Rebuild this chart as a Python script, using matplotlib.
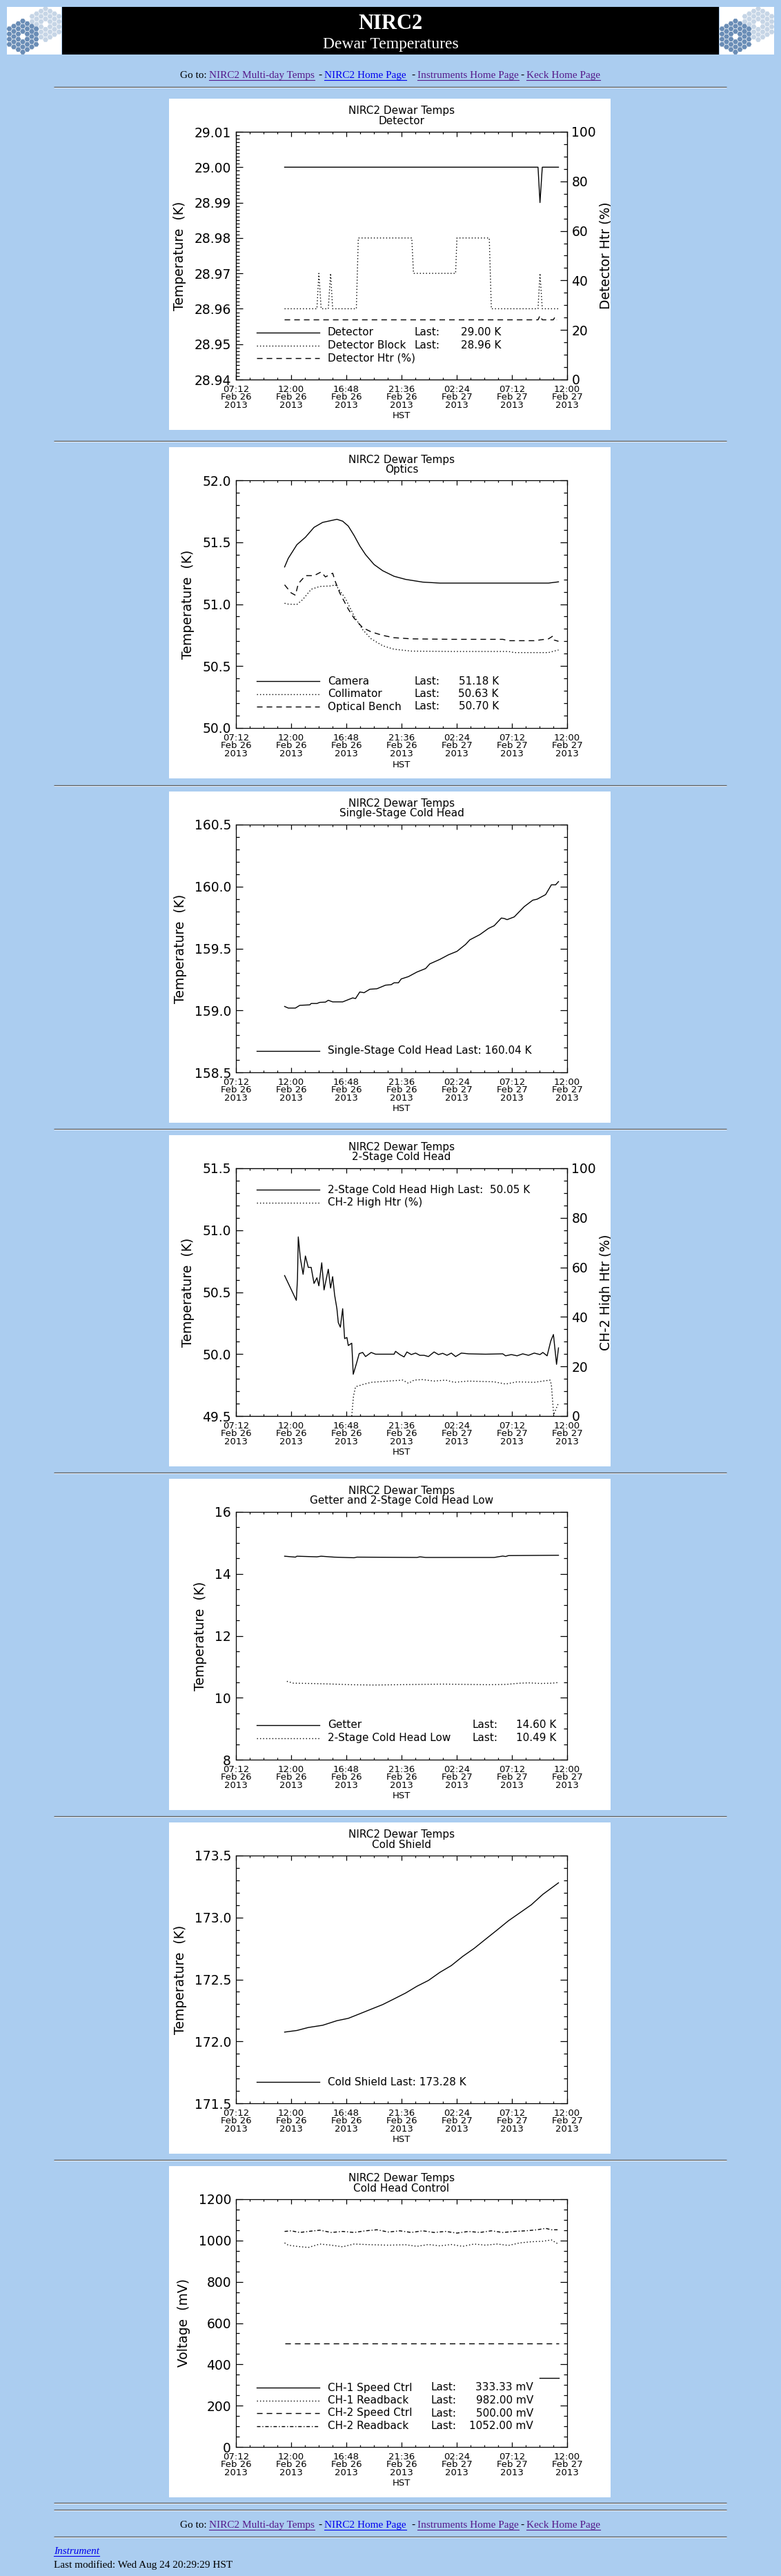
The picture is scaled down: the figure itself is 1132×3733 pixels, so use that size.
import numpy as np
import matplotlib
matplotlib.use('Agg')
import matplotlib.pyplot as plt
from matplotlib.patches import Rectangle, RegularPolygon
from matplotlib.ticker import MultipleLocator, FormatStrFormatter
from matplotlib.transforms import Bbox

plt.rcParams['font.family'] = 'DejaVu Sans'
plt.rcParams['lines.scale_dashes'] = False

# ---------- time axis (hours after 07:12 HST, Feb 26 2013)
tick_hours = [0, 4.8, 9.6, 14.4, 19.2, 24.0, 28.8]
tick_labels = ['07:12\nFeb 26\n2013', '12:00\nFeb 26\n2013', '16:48\nFeb 26\n2013',
               '21:36\nFeb 26\n2013', '02:24\nFeb 27\n2013', '07:12\nFeb 27\n2013',
               '12:00\nFeb 27\n2013']

# ---------- Detector
det_t = [4.23, 26.27, 26.44, 26.64, 28.05]
det_T = [29.00, 29.00, 28.99, 29.00, 29.00]
blk_t = [4.23, 7.04, 7.21, 7.41, 8.03, 8.23, 8.41, 10.47, 10.64, 15.29, 15.44,
         19.10, 19.22, 22.03, 22.21, 26.27, 26.44, 26.64, 28.05]
blk_T = [28.96, 28.96, 28.97, 28.96, 28.96, 28.97, 28.96, 28.96, 28.98, 28.98, 28.97,
         28.97, 28.98, 28.98, 28.96, 28.96, 28.97, 28.96, 28.96]
dhtr_t = [4.23, 26.27, 26.44, 26.64, 27.60, 27.75, 27.90]
dhtr = [24.1, 24.1, 25.8, 24.1, 24.1, 25.3, 24.1]

# ---------- Optics
cam_t = [4.23, 4.55, 5.30, 6.04, 6.79, 7.54, 8.28, 8.78, 9.28, 9.77, 10.27, 10.77,
         11.27, 12.01, 12.76, 13.75, 14.75, 16.24, 17.73, 21.21, 27.18, 28.05]
cam_T = [51.30, 51.37, 51.48, 51.54, 51.62, 51.66, 51.675, 51.685, 51.67, 51.63, 51.555,
         51.47, 51.40, 51.32, 51.27, 51.225, 51.20, 51.178, 51.17, 51.17, 51.17, 51.18]
col_t = [4.23, 4.55, 5.30, 5.79, 6.54, 7.29, 8.28, 8.65, 9.03, 9.52, 10.27, 11.02,
         11.76, 12.76, 13.75, 15.25, 18.73, 23.70, 24.20, 27.18, 28.05]
col_T = [51.007, 51.00, 50.998, 51.035, 51.12, 51.143, 51.147, 51.156, 51.11, 51.045,
         50.905, 50.794, 50.72, 50.664, 50.636, 50.621, 50.618, 50.618, 50.609, 50.609, 50.63]
bench_t = [4.23, 4.80, 5.17, 5.42, 6.04, 6.79, 7.41, 7.78, 8.41, 8.65, 9.03, 9.77, 10.27,
           11.02, 11.76, 12.76, 13.75, 15.25, 18.73, 23.21, 23.70, 25.94, 27.18, 27.56,
           27.68, 28.05]
bench_T = [51.156, 51.091, 51.072, 51.165, 51.23, 51.23, 51.26, 51.22, 51.25, 51.18, 51.09,
           50.96, 50.887, 50.81, 50.776, 50.748, 50.729, 50.72, 50.716, 50.716, 50.705,
           50.705, 50.72, 50.742, 50.71, 50.70]

# ---------- Single-stage cold head
ss_t = [4.23, 4.55, 5.17, 5.55, 6.42, 6.54, 7.04, 7.29, 7.78, 8.03, 8.41, 9.28, 9.77,
        10.15, 10.40, 10.77, 11.14, 11.64, 12.26, 13.01, 13.50, 13.75, 14.13, 14.37,
        15.00, 15.74, 16.49, 16.86, 17.73, 18.48, 19.22, 19.97, 20.34, 21.21, 21.96,
        22.46, 23.08, 23.33, 23.58, 24.20, 25.07, 25.81, 26.19, 26.93, 27.43, 27.80, 28.05]
ss_T = [159.032, 159.019, 159.019, 159.041, 159.045, 159.056, 159.056, 159.065, 159.067,
        159.082, 159.069, 159.069, 159.087, 159.101, 159.096, 159.149, 159.143, 159.171,
        159.175, 159.204, 159.208, 159.223, 159.223, 159.254, 159.273, 159.31, 159.338,
        159.376, 159.412, 159.449, 159.477, 159.533, 159.57, 159.612, 159.662, 159.684,
        159.746, 159.742, 159.733, 159.755, 159.838, 159.89, 159.898, 159.935, 160.014,
        160.014, 160.04]

# ---------- 2-stage cold head high
hi_t = [4.23, 5.25, 5.35, 5.42, 5.60, 5.84, 6.04, 6.29, 6.54, 6.79, 7.04, 7.21, 7.46,
        7.66, 8.03, 8.23, 8.41, 8.58, 8.78, 8.90, 9.08, 9.28, 9.45, 9.65, 9.77, 10.07,
        10.20, 10.47, 10.72, 11.02, 11.27, 11.76, 12.14, 13.75, 13.88, 14.25, 14.62,
        14.87, 15.25, 15.62, 15.99, 16.36, 16.74, 17.23, 17.61, 17.98, 18.35, 18.73,
        19.10, 19.60, 20.22, 21.71, 23.20, 23.45, 23.95, 24.45, 24.94, 25.44, 25.94,
        26.44, 26.69, 27.06, 27.38, 27.61, 27.88, 28.05]
hi_T = [50.634, 50.434, 50.607, 50.946, 50.774, 50.644, 50.792, 50.700, 50.700, 50.570,
        50.616, 50.551, 50.737, 50.518, 50.685, 50.533, 50.625, 50.477, 50.366, 50.254,
        50.217, 50.366, 50.125, 50.134, 50.069, 50.088, 49.837, 49.921, 50.004, 50.013,
        49.980, 50.013, 49.999, 49.999, 50.022, 49.996, 49.977, 50.017, 49.996, 50.008,
        49.990, 49.990, 49.980, 50.017, 49.996, 50.006, 49.990, 50.008, 49.980, 50.008,
        50.002, 49.999, 50.002, 49.986, 49.996, 49.986, 50.002, 49.990, 50.008, 49.996,
        50.013, 49.986, 50.106, 50.158, 49.917, 50.05]
hhtr_t = [10.07, 10.22, 10.40, 11.02, 11.76, 13.26, 14.50, 15.00, 15.49, 16.24, 17.23,
          18.23, 18.98, 20.22, 22.46, 23.45, 24.45, 25.94, 27.31, 27.43, 27.63, 28.05]
hhtr = [0, 8, 11.8, 12.7, 13.6, 14.1, 14.5, 13.2, 14.5, 14.7, 14.1, 14.5, 13.6, 14.1,
        13.8, 12.9, 13.8, 13.6, 14.5, 12.7, 0.5, 5.3]

# ---------- Getter and 2-stage cold head low
get_t = [4.23, 5.17, 5.30, 7.04, 7.41, 8.53, 10.27, 10.52, 15.75, 16.00, 16.49, 22.46,
         23.20, 23.45, 23.70, 28.05]
get_T = [14.57, 14.54, 14.57, 14.55, 14.57, 14.54, 14.52, 14.54, 14.53, 14.55, 14.53,
         14.53, 14.575, 14.56, 14.59, 14.60]
low_t = [4.43, 5.0, 6.5, 8.5, 10.0, 12.0, 14.0, 16.0, 18.0, 20.0, 22.0, 23.5, 24.7,
         25.5, 26.5, 27.5, 28.0]
low_T = [10.53, 10.47, 10.46, 10.44, 10.42, 10.41, 10.42, 10.43, 10.44, 10.43, 10.42,
         10.43, 10.47, 10.48, 10.46, 10.47, 10.49]

# ---------- Cold shield
cs_t = [4.23, 5.30, 6.29, 7.54, 8.78, 9.77, 10.77, 11.76, 12.76, 13.75, 14.75, 15.74,
        16.74, 17.73, 18.73, 19.72, 20.72, 21.71, 22.71, 23.70, 24.69, 25.69, 26.69, 28.05]
cs_T = [172.075, 172.088, 172.112, 172.130, 172.167, 172.186, 172.223, 172.260, 172.297,
        172.343, 172.390, 172.445, 172.492, 172.557, 172.612, 172.686, 172.751, 172.825,
        172.899, 172.974, 173.038, 173.103, 173.187, 173.28]

# ---------- Cold head control
c1s_t = [26.39, 28.05]
c1s_v = [333.33, 333.33]
c1r_t = [4.23, 4.55, 5.30, 6.29, 7.29, 8.28, 9.28, 10.27, 11.76, 13.26, 14.75, 15.74,
         16.74, 17.73, 18.73, 19.72, 20.72, 21.71, 22.71, 23.70, 24.69, 25.69, 26.69,
         27.43, 28.05]
c1r_v = [988.5, 977.4, 971.8, 966.3, 983.0, 977.4, 969.6, 983.0, 979.6, 977.4, 979.6,
         971.8, 980.7, 974.1, 980.7, 971.8, 983.0, 977.4, 983.0, 976.3, 988.5, 994.1,
         996.3, 1003.0, 982.0]
c2s_t = [4.23, 28.05]
c2s_v = [500.0, 500.0]
c2r_t = [4.23, 4.80, 5.55, 6.29, 7.29, 8.28, 9.28, 10.27, 11.27, 12.26, 13.26, 14.25,
         15.25, 16.24, 17.23, 18.23, 19.22, 20.22, 21.21, 22.21, 23.20, 24.20, 25.19,
         26.19, 26.93, 27.43, 28.05]
c2r_v = [1044, 1047, 1039, 1044, 1050, 1039, 1044, 1039, 1047, 1052, 1041, 1047, 1039,
         1047, 1039, 1044, 1036, 1044, 1039, 1047, 1039, 1044, 1047, 1052, 1059, 1052, 1052]

# ---------- page layout (pixels)
W, H = 1132, 3733
BG = '#abcdf0'
PURPLE = '#551a8b'
BLUE = '#0000ee'
AX_L, AX_W, AX_H = 342, 480, 359
BOX_L, BOX_W, BOX_H = 245, 640, 480
box_tops = [143, 648, 1147, 1645, 2143, 2641, 3139]
LW = 1.0
SOLID = dict(ls='-')
DOT = dict(ls=(0, (1.0, 2.2)))
DASH = dict(ls=(0, (5.8, 4.3)))
DASHDOT = dict(ls=(0, (3.6, 2.0, 1.0, 2.0)))

fig = plt.figure(figsize=(W / 100, H / 100), dpi=100, facecolor=BG)
page = fig.add_axes([0, 0, 1, 1])
page.set_xlim(0, W)
page.set_ylim(H, 0)
page.axis('off')
renderer = fig.canvas.get_renderer()


def rule(y):
    page.plot([78, 1053], [y, y], color='#555555', lw=1.0, solid_capstyle='butt')
    page.plot([78, 1053], [y + 1.4, y + 1.4], color='#e6edf5', lw=0.8, solid_capstyle='butt')


def logo(x0):
    box = Rectangle((x0, 10), 79, 69, fc='white', ec='none')
    page.add_patch(box)
    R = 4.33
    for cx, cy, col in [(x0 + 56, 35, '#c6d5e6'), (x0 + 23, 53, '#6a8db6')]:
        for q in range(-3, 4):
            for r in range(-3, 4):
                if max(abs(q), abs(r), abs(q + r)) > 3 or (q == 0 and r == 0):
                    continue
                hx = cx + 1.5 * R * q
                hy = cy + np.sqrt(3) * R * (r + q / 2)
                seg = RegularPolygon((hx, hy), 6, radius=R * 0.9,
                                     orientation=np.pi / 6, fc=col, ec='none')
                page.add_patch(seg)
                seg.set_clip_path(box)


def goto_line(y):
    pieces = [(261, 'Go to:', 'black', False),
              (303, 'NIRC2 Multi-day Temps', PURPLE, True),
              (461, '-', 'black', False),
              (470, 'NIRC2 Home Page', BLUE, True),
              (596, '-', 'black', False),
              (605, 'Instruments Home Page', PURPLE, True),
              (754, '-', 'black', False),
              (763, 'Keck Home Page', PURPLE, True)]
    for x, s, c, ul in pieces:
        t = page.text(x, y, s, color=c, fontsize=11, family='Liberation Serif', va='baseline')
        if ul:
            w = t.get_window_extent(renderer).width
            page.plot([x, x + w], [y + 2.5, y + 2.5], color=c, lw=0.8)


# ---------- header
logo(10)
logo(1043)
page.add_patch(Rectangle((90, 10), 952, 69, fc='black', ec='none'))
page.text(566, 42, 'NIRC2', color='white', fontsize=22, fontweight='bold',
          family='Liberation Serif', ha='center', va='baseline')
page.text(566, 70, 'Dewar Temperatures', color='white', fontsize=17,
          family='Liberation Serif', ha='center', va='baseline')
goto_line(113)
rule(126)
for top in box_tops[1:]:
    rule(top - 9)


def make_panel(i, subtitle, ylim, major, minor, fmt, ylabel, twin=None):
    top = box_tops[i]
    page.add_patch(Rectangle((BOX_L, top), BOX_W, BOX_H, fc='white', ec='none'))
    at = top + 48
    ax = fig.add_axes([AX_L / W, 1 - (at + AX_H) / H, AX_W / W, AX_H / H])
    ax.set_xlim(0, 28.8)
    ax.set_ylim(*ylim)
    ax.set_xticks(tick_hours, labels=tick_labels)
    ax.xaxis.set_minor_locator(MultipleLocator(1.2))
    ax.yaxis.set_major_locator(MultipleLocator(major))
    ax.yaxis.set_minor_locator(MultipleLocator(minor))
    ax.yaxis.set_major_formatter(FormatStrFormatter(fmt))
    for sp in ax.spines.values():
        sp.set_linewidth(0.9)
    ax.tick_params(axis='x', which='both', direction='in', top=True, labelsize=9.5,
                   pad=5.5, width=0.9)
    ax.tick_params(axis='x', which='major', length=5)
    ax.tick_params(axis='x', which='minor', length=2.5)
    ax.tick_params(axis='y', which='both', direction='in', right=twin is None,
                   labelsize=13.5, pad=5, width=0.9)
    ax.tick_params(axis='y', which='major', length=7.2)
    ax.tick_params(axis='y', which='minor', length=3.6)
    for lbl in ax.get_xticklabels():
        lbl.set_linespacing(0.85)
    ax.set_ylabel(ylabel, fontsize=13.5, labelpad=8)
    ax.text(0.5, 1 + 30 / AX_H, 'NIRC2 Dewar Temps', transform=ax.transAxes,
            ha='center', va='center', fontsize=11)
    ax.text(0.5, 1 + 16 / AX_H, subtitle, transform=ax.transAxes,
            ha='center', va='center', fontsize=11)
    ax.text(0.5, -53 / AX_H, 'HST', transform=ax.transAxes, ha='center',
            va='center', fontsize=9.5)
    ax2 = None
    if twin is not None:
        ax2 = ax.twinx()
        ax2.set_ylim(0, 100)
        ax2.yaxis.set_major_locator(MultipleLocator(20))
        ax2.yaxis.set_minor_locator(MultipleLocator(5))
        ax2.tick_params(axis='y', which='both', direction='in', labelsize=13.5,
                        pad=4.5, width=0.9)
        ax2.tick_params(axis='y', which='major', length=7.2)
        ax2.tick_params(axis='y', which='minor', length=3.6)
        rl = page.text(878, at + AX_H / 2, twin, rotation=90, ha='center', va='center',
                       fontsize=13.5)
        rl.set_clip_on(True)
        rl.set_clip_box(Bbox.from_extents(BOX_L, H - (top + BOX_H), BOX_L + BOX_W, H - top))
    return ax, ax2


def legend(ax, rows, y0, last_x=None, val_x=None):
    for k, (style, label, value) in enumerate(rows):
        fy = (y0 - k * 18.5) / AX_H
        ax.plot([30 / AX_W, 121 / AX_W], [fy, fy], transform=ax.transAxes, color='k',
                lw=LW, clip_on=False, **style)
        ax.text(133 / AX_W, fy, label, transform=ax.transAxes, va='center', fontsize=11)
        if value is not None:
            ax.text(last_x / AX_W, fy, 'Last:', transform=ax.transAxes, va='center',
                    fontsize=11)
            ax.text(val_x / AX_W, fy, value, transform=ax.transAxes, va='center',
                    ha='right', fontsize=11)


# ---------- panel 1: detector
ax, ax2 = make_panel(0, 'Detector', (28.94, 29.01), 0.01, 0.001, '%.2f',
                     'Temperature  (K)', twin='Detector Htr (%)')
ax.plot(det_t, det_T, color='k', lw=LW, **SOLID)
ax.plot(blk_t, blk_T, color='k', lw=LW, **DOT)
ax2.plot(dhtr_t, dhtr, color='k', lw=LW, **DASH)
legend(ax, [(SOLID, 'Detector', '29.00 K'), (DOT, 'Detector Block', '28.96 K'),
            (DASH, 'Detector Htr (%)', None)], 68, 259, 384)

# ---------- panel 2: optics
ax, _ = make_panel(1, 'Optics', (50.0, 52.0), 0.5, 0.1, '%.1f', 'Temperature  (K)')
ax.plot(cam_t, cam_T, color='k', lw=LW, **SOLID)
ax.plot(col_t, col_T, color='k', lw=LW, **DOT)
ax.plot(bench_t, bench_T, color='k', lw=LW, **DASH)
legend(ax, [(SOLID, 'Camera', '51.18 K'), (DOT, 'Collimator', '50.63 K'),
            (DASH, 'Optical Bench', '50.70 K')], 68, 258, 381)

# ---------- panel 3: single-stage cold head
ax, _ = make_panel(2, 'Single-Stage Cold Head', (158.5, 160.5), 0.5, 0.1, '%.1f',
                   'Temperature  (K)')
ax.plot(ss_t, ss_T, color='k', lw=LW, **SOLID)
legend(ax, [(SOLID, 'Single-Stage Cold Head Last: 160.04 K', None)], 31)

# ---------- panel 4: 2-stage cold head
ax, ax2 = make_panel(3, '2-Stage Cold Head', (49.5, 51.5), 0.5, 0.1, '%.1f',
                     'Temperature  (K)', twin='CH-2 High Htr (%)')
ax.plot(hi_t, hi_T, color='k', lw=LW, **SOLID)
ax2.plot(hhtr_t, hhtr, color='k', lw=LW, **DOT)
legend(ax, [(SOLID, '2-Stage Cold Head High Last:  50.05 K', None),
            (DOT, 'CH-2 High Htr (%)', None)], 328)

# ---------- panel 5: getter
ax, _ = make_panel(4, 'Getter and 2-Stage Cold Head Low', (8, 16), 2, 0.5, '%d',
                   'Temperature  (K)')
ax.plot(get_t, get_T, color='k', lw=LW, **SOLID)
ax.plot(low_t, low_T, color='k', lw=LW, **DOT)
legend(ax, [(SOLID, 'Getter', '14.60 K'), (DOT, '2-Stage Cold Head Low', '10.49 K')],
       50, 342, 464)

# ---------- panel 6: cold shield
ax, _ = make_panel(5, 'Cold Shield', (171.5, 173.5), 0.5, 0.1, '%.1f', 'Temperature  (K)')
ax.plot(cs_t, cs_T, color='k', lw=LW, **SOLID)
legend(ax, [(SOLID, 'Cold Shield Last: 173.28 K', None)], 31)

# ---------- panel 7: cold head control
ax, _ = make_panel(6, 'Cold Head Control', (0, 1200), 200, 50, '%d', 'Voltage  (mV)')
ax.plot(c1s_t, c1s_v, color='k', lw=LW, **SOLID)
ax.plot(c1r_t, c1r_v, color='k', lw=LW, **DOT)
ax.plot(c2s_t, c2s_v, color='k', lw=LW, **DASH)
ax.plot(c2r_t, c2r_v, color='k', lw=LW, **DASHDOT)
legend(ax, [(SOLID, 'CH-1 Speed Ctrl', '333.33 mV'), (DOT, 'CH-1 Readback', '982.00 mV'),
            (DASH, 'CH-2 Speed Ctrl', '500.00 mV'), (DASHDOT, 'CH-2 Readback', '1052.00 mV')],
       86, 283, 431)

# ---------- footer
rule(3627)
rule(3637)
goto_line(3663)
rule(3676)
t = page.text(78, 3701, 'Instrument', color=BLUE, fontsize=11, style='italic',
              family='Liberation Serif', va='baseline')
w = t.get_window_extent(renderer).width
page.plot([78, 78 + w], [3703.5, 3703.5], color=BLUE, lw=0.8)
page.text(78, 3721, 'Last modified: Wed Aug 24 20:29:29 HST', color='black', fontsize=11,
          family='Liberation Serif', va='baseline')

fig.savefig('out.png', dpi=100, facecolor=BG)
